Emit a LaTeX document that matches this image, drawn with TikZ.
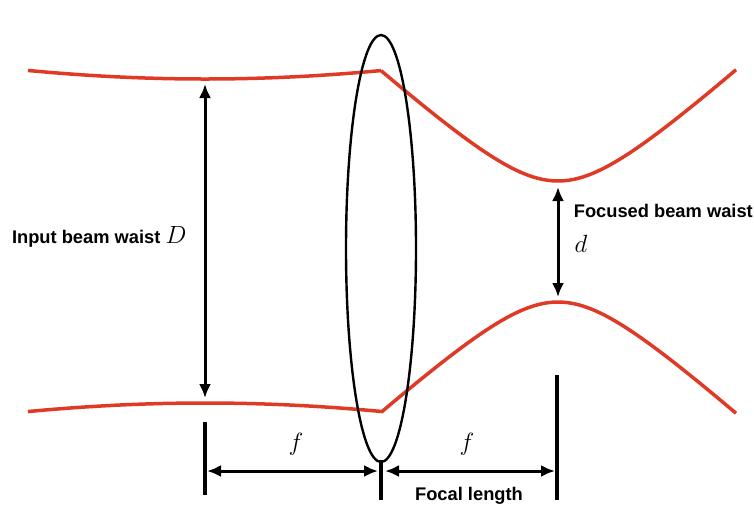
\documentclass[tikz,border=0pt]{standalone}
\usepackage{fontspec}
\setsansfont{Liberation Sans}
\usetikzlibrary{arrows.meta}

\definecolor{beamred}{RGB}{222,58,38}

\tikzset{
  beam/.style={line width=3.5pt, color=beamred, line join=round},
  dim/.style={line width=3pt, {Latex[length=14pt,width=12pt]}-{Latex[length=14pt,width=12pt]}},
  tick/.style={line width=3.5pt},
  lbl/.style={font=\fontsize{18.3}{22}\selectfont\sffamily\bfseries},
  sym/.style={font=\fontsize{24}{28}\selectfont}
}

\begin{document}
\begin{tikzpicture}[x=1pt, y=-1pt]

\useasboundingbox (0,0) rectangle (754,512);

% input beam, waist D
\draw[beam] plot[domain=28:381, samples=60] (\x, {241 - 162*sqrt(1+((\x-205)/538)^2)}) ;
\draw[beam] plot[domain=28:381, samples=60] (\x, {241 + 162*sqrt(1+((\x-205)/538)^2)}) ;

% focused beam, waist d
\draw[beam] plot[domain=381:736, samples=80] (\x, {241.5 - 60.5*sqrt(1+((\x-558)/67)^2)}) ;
\draw[beam] plot[domain=381:736, samples=80] (\x, {241.5 + 60.5*sqrt(1+((\x-558)/67)^2)}) ;

% lens
\draw[line width=2.4pt] (381,248.5) ellipse [x radius=35, y radius=213.5] ;

% waists
\coordinate (Dtop) at (205,84) ;
\coordinate (Dbot) at (205,398) ;
\draw[dim] (Dtop) -- (Dbot) ;
\node[lbl, anchor=east] (inlabel) at (190,237) {Input beam waist \fontsize{24}{28}\selectfont$D$} ;

\coordinate (dtop) at (558,187) ;
\coordinate (dbot) at (558,297) ;
\draw[dim] (dtop) -- (dbot) ;
\node[lbl, anchor=east, inner sep=0pt] (outlabel) at (753,211) {Focused beam waist} ;
\node[sym] (dsym) at (581,244) {$d$} ;

% focal lengths
\draw[tick] (205,422) -- (205,495) ;
\draw[tick] (381,460) -- (381,500) ;
\draw[tick] (557,375) -- (557,500) ;

\coordinate (fa) at (207,471) ;
\coordinate (fb) at (378,471) ;
\coordinate (fc) at (385,471) ;
\coordinate (fd) at (555,471) ;
\draw[dim] (fa) -- (fb) ;
\draw[dim] (fc) -- (fd) ;
\node[sym] (fleft) at (296,444) {$f$} ;
\node[sym] (fright) at (467,444) {$f$} ;
\node[lbl] (focal) at (469,496) {Focal length} ;

\end{tikzpicture}
\end{document}
